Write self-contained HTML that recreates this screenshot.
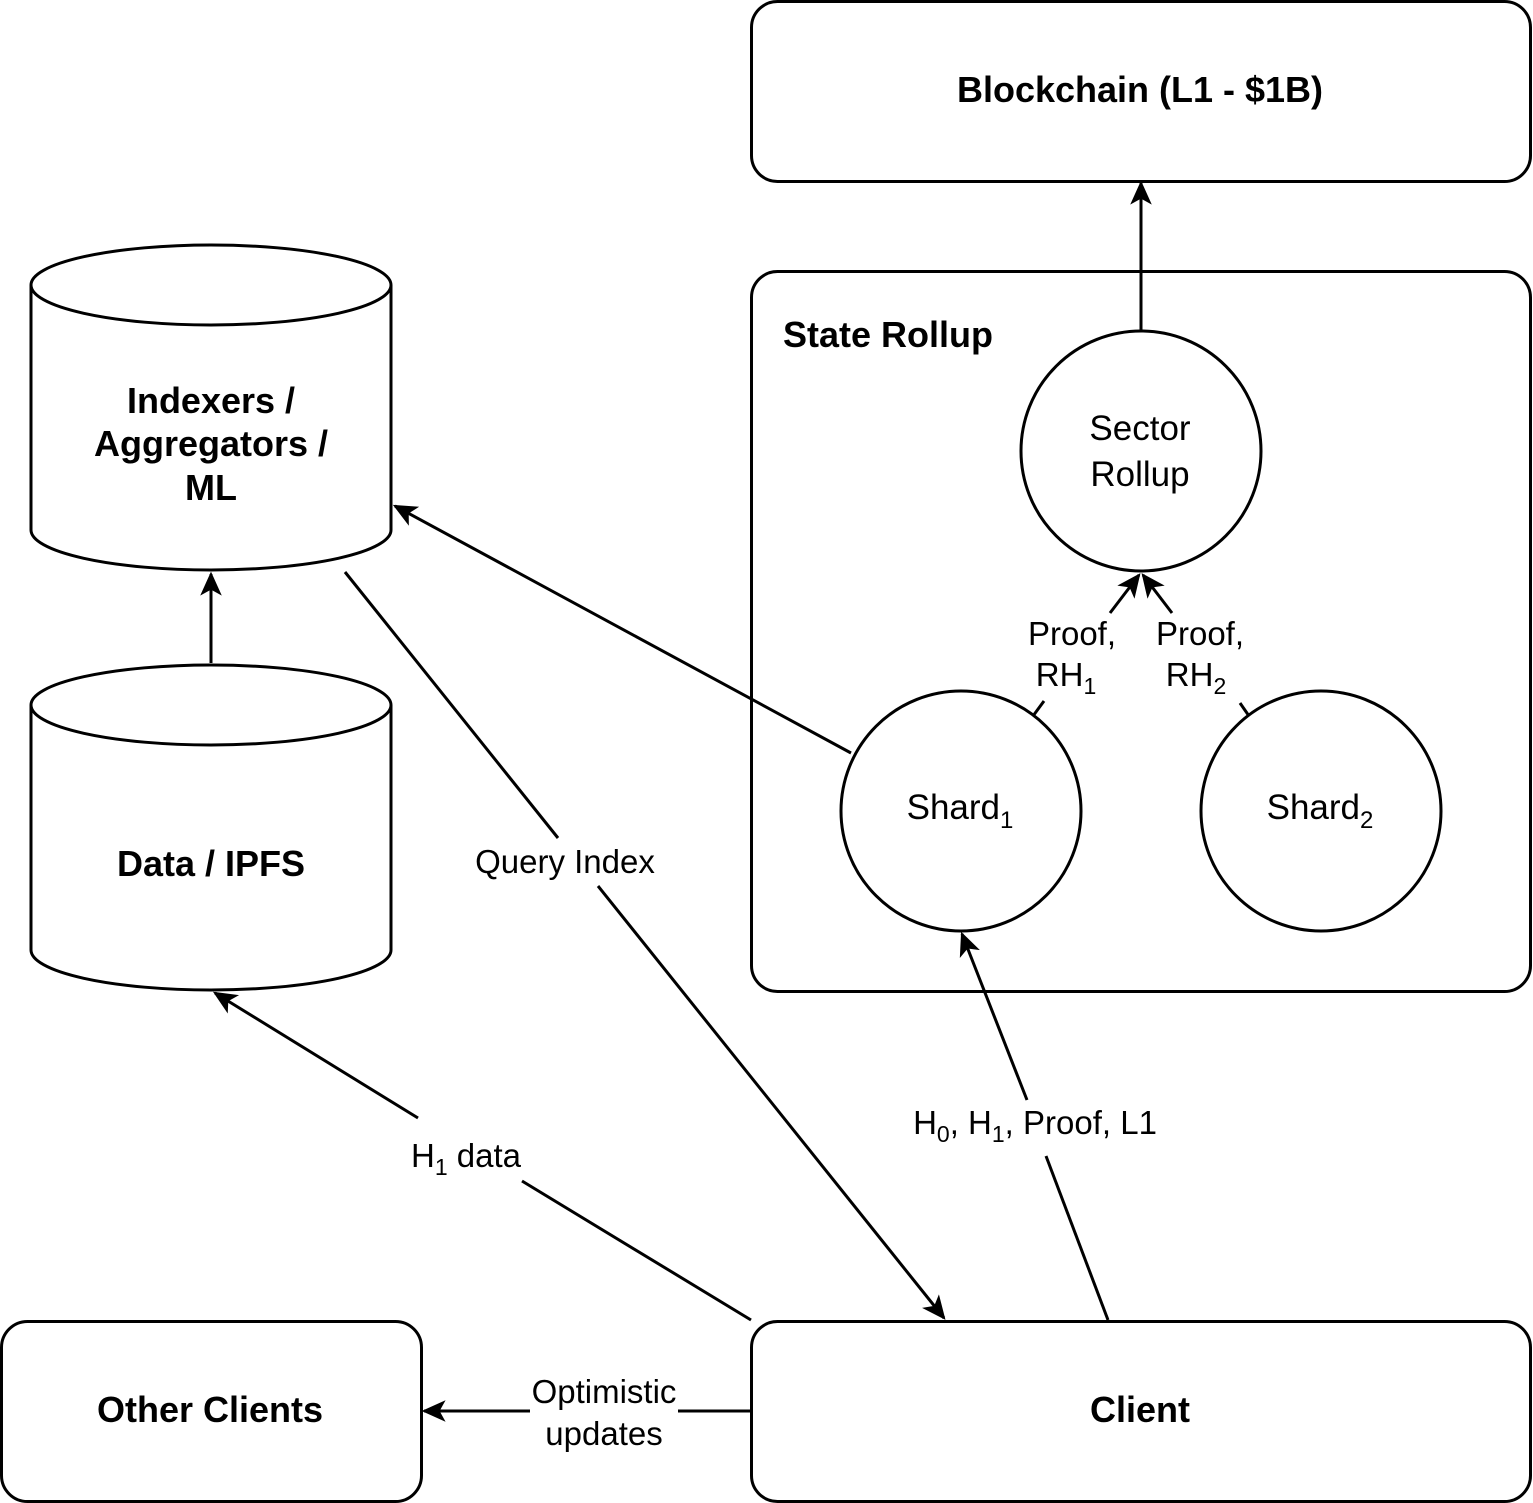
<!DOCTYPE html>
<html><head><meta charset="utf-8"><style>
html,body{margin:0;padding:0;background:#fff}
svg{display:block}
text{font-family:"Liberation Sans",Arial,sans-serif;fill:#000}
.b{font-weight:bold;font-size:36px}
.l{font-size:33px}
.c{font-size:35px}
</style></head><body>
<svg width="1533" height="1503" viewBox="0 0 1533 1503" xmlns="http://www.w3.org/2000/svg">
<defs>
<marker id="h" viewBox="0 0 20 20" markerWidth="24" markerHeight="24" refX="18" refY="10" orient="auto" markerUnits="userSpaceOnUse">
<path d="M0,1 L20,10 L0,19 L5,10 Z" fill="#000"/>
</marker>
</defs>
<g fill="none" stroke="#000" stroke-width="3">
<rect x="751.5" y="1.5" width="779" height="180" rx="26"/>
<rect x="751.5" y="271.5" width="779" height="720" rx="26"/>
<rect x="751.5" y="1321.5" width="779" height="180" rx="26"/>
<rect x="1.5" y="1321.5" width="420" height="180" rx="26"/>
<circle cx="1141" cy="451" r="120"/>
<circle cx="961" cy="811" r="120"/>
<circle cx="1321" cy="811" r="120"/>
<path d="M31,285 A180,40 0 0 1 391,285 L391,530 A180,40 0 0 1 31,530 Z"/>
<path d="M31,285 A180,40 0 0 0 391,285"/>
<path d="M31,705 A180,40 0 0 1 391,705 L391,950 A180,40 0 0 1 31,950 Z"/>
<path d="M31,705 A180,40 0 0 0 391,705"/>
<line x1="1141" y1="331" x2="1141" y2="183" marker-end="url(#h)"/>
<line x1="211" y1="663" x2="211" y2="574" marker-end="url(#h)"/>
<line x1="1033" y1="716" x2="1044" y2="701"/>
<line x1="1110" y1="613" x2="1139" y2="575" marker-end="url(#h)"/>
<line x1="1249" y1="716" x2="1240" y2="703"/>
<line x1="1172" y1="613" x2="1143" y2="575" marker-end="url(#h)"/>
<line x1="851" y1="753" x2="395" y2="506" marker-end="url(#h)"/>
<line x1="345" y1="572" x2="558" y2="838"/>
<line x1="598" y1="886" x2="944" y2="1318" marker-end="url(#h)"/>
<line x1="751" y1="1320" x2="522" y2="1181"/>
<line x1="418" y1="1118" x2="215" y2="993" marker-end="url(#h)"/>
<line x1="1108" y1="1320" x2="1046" y2="1156"/>
<line x1="1027" y1="1100" x2="962" y2="934" marker-end="url(#h)"/>
<line x1="751" y1="1411" x2="678" y2="1411"/>
<line x1="530" y1="1411" x2="424" y2="1411" marker-end="url(#h)"/>
</g>
<text class="b" x="1140" y="102" text-anchor="middle">Blockchain (L1 - $1B)</text>
<text class="b" x="783" y="347">State Rollup</text>
<text class="c" x="1140" y="440" text-anchor="middle">Sector</text>
<text class="c" x="1140" y="486" text-anchor="middle">Rollup</text>
<text class="l" x="1072" y="645" text-anchor="middle">Proof,</text>
<text class="l" x="1066" y="686" text-anchor="middle">RH<tspan font-size="23" dy="8">1</tspan></text>
<text class="l" x="1200" y="645" text-anchor="middle">Proof,</text>
<text class="l" x="1196" y="686" text-anchor="middle">RH<tspan font-size="23" dy="8">2</tspan></text>
<text class="c" x="960" y="819" text-anchor="middle">Shard<tspan font-size="24" dy="9">1</tspan></text>
<text class="c" x="1320" y="819" text-anchor="middle">Shard<tspan font-size="24" dy="9">2</tspan></text>
<text class="b" x="211" y="413" text-anchor="middle">Indexers /</text>
<text class="b" x="211" y="456" text-anchor="middle">Aggregators /</text>
<text class="b" x="211" y="500" text-anchor="middle">ML</text>
<text class="b" x="211" y="876" text-anchor="middle">Data / IPFS</text>
<text class="l" x="565" y="873" text-anchor="middle">Query Index</text>
<text class="l" x="466" y="1167" text-anchor="middle">H<tspan font-size="23" dy="8">1</tspan><tspan dy="-8"> data</tspan></text>
<text class="l" x="1035" y="1134" text-anchor="middle">H<tspan font-size="23" dy="8">0</tspan><tspan dy="-8">, H</tspan><tspan font-size="23" dy="8">1</tspan><tspan dy="-8">, Proof, L1</tspan></text>
<text class="l" x="604" y="1403" text-anchor="middle">Optimistic</text>
<text class="l" x="604" y="1445" text-anchor="middle">updates</text>
<text class="b" x="1140" y="1422" text-anchor="middle">Client</text>
<text class="b" x="210" y="1422" text-anchor="middle">Other Clients</text>
</svg>
</body></html>
